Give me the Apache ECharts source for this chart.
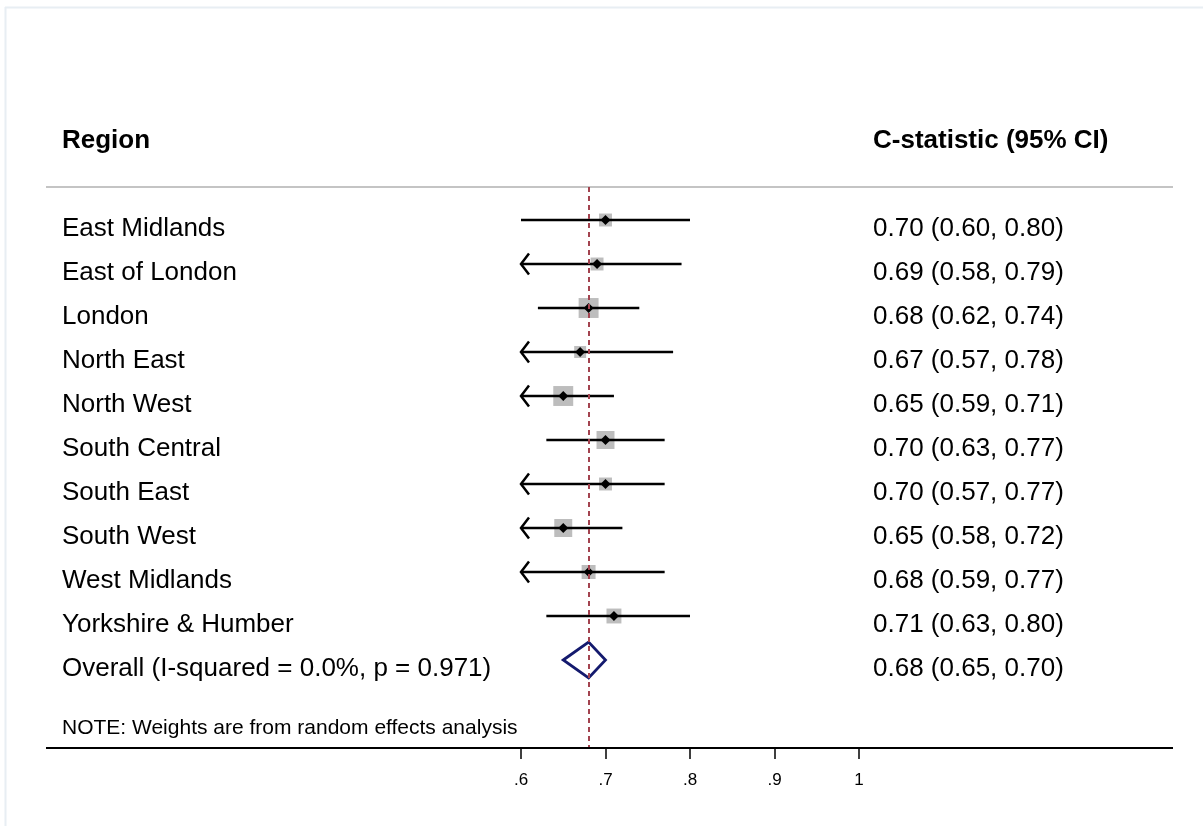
<!DOCTYPE html>
<html>
<head>
<meta charset="utf-8">
<title>C-statistic by region</title>
<script src="https://cdn.jsdelivr.net/npm/echarts@6/dist/echarts.min.js"></script>
<style>
  html, body { margin: 0; padding: 0; background: #ffffff; }
  #chart { width: 1203px; height: 826px; }
</style>
</head>
<body>
<div id="chart"></div>
<script>
// Study rows: region, C-statistic point estimate and 95% CI, random-effects weight (%)
const regions = ['East Midlands', 'East of London', 'London', 'North East', 'North West',
                 'South Central', 'South East', 'South West', 'West Midlands', 'Yorkshire & Humber'];
const estimate = [0.70, 0.69, 0.68, 0.67, 0.65, 0.70, 0.70, 0.65, 0.68, 0.71];
const lowerCI  = [0.60, 0.58, 0.62, 0.57, 0.59, 0.63, 0.57, 0.58, 0.59, 0.63];
const upperCI  = [0.80, 0.79, 0.74, 0.78, 0.71, 0.77, 0.77, 0.72, 0.77, 0.80];
const weights  = [6.7, 6.7, 15.9, 5.7, 15.9, 12.9, 6.7, 12.9, 7.8, 8.9];

// Pooled estimate
const overallLabel = 'Overall (I-squared = 0.0%, p = 0.971)';
const overallEstimate = 0.68;
const overallLower = 0.65;
const overallUpper = 0.70;

// Axis and captions
const xTicks = ['.6', '.7', '.8', '.9', '1'];
const xMin = 0.6, xMax = 1.0, xStep = 0.1;
const headerLeft = 'Region';
const headerRight = 'C-statistic (95% CI)';
const noteText = 'NOTE: Weights are from random effects analysis';

// Layout
const W = 1203, H = 826;
const FONT = '"Liberation Sans", Arial, Helvetica, sans-serif';
const GRID = { left: 521, right: 344, top: 187, bottom: 78 };
const axisY = H - GRID.bottom;
const LABEL_X = 62, CI_X = 873, RULE_L = 46, RULE_R = 1173;
const TEXT_DROP = 9;
const ROW_FONT = '26px ' + FONT;

const fmt = v => v.toFixed(2);
const ciText = (e, l, u) => fmt(e) + ' (' + fmt(l) + ', ' + fmt(u) + ')';

function renderStudy(params, api) {
  const idx = params.dataIndex;
  const row = api.value(0), est = api.value(1), lo = api.value(2), hi = api.value(3), w = api.value(4);
  const p = api.coord([est, row]);
  const xe = p[0], y = p[1];
  const xl = api.coord([Math.max(lo, xMin), row])[0];
  const xh = api.coord([Math.min(hi, xMax), row])[0];
  const side = Math.sqrt(w) * 5.0;
  const children = [
    { type: 'rect', shape: { x: xe - side / 2, y: y - side / 2, width: side, height: side },
      style: { fill: '#bdbdbd' } },
    { type: 'line', shape: { x1: xl, y1: y, x2: xh, y2: y },
      style: { stroke: '#000', lineWidth: 2.5 } }
  ];
  if (lo < xMin - 1e-9) {
    children.push({ type: 'polyline',
      shape: { points: [[xl + 8, y - 10.5], [xl, y], [xl + 8, y + 10.5]] },
      style: { stroke: '#000', lineWidth: 2.5, fill: null } });
  }
  children.push({ type: 'polygon',
    shape: { points: [[xe - 5, y], [xe, y - 5], [xe + 5, y], [xe, y + 5]] },
    style: { fill: '#000' } });
  children.push({ type: 'text',
    style: { text: regions[idx], x: LABEL_X, y: y + TEXT_DROP, font: ROW_FONT, fill: '#000',
             align: 'left', verticalAlign: 'middle' } });
  children.push({ type: 'text',
    style: { text: ciText(est, lo, hi), x: CI_X, y: y + TEXT_DROP, font: ROW_FONT, fill: '#000',
             align: 'left', verticalAlign: 'middle' } });
  return { type: 'group', children: children };
}

function renderOverall(params, api) {
  const row = api.value(0), est = api.value(1), lo = api.value(2), hi = api.value(3);
  const c = api.coord([est, row]);
  const xl = api.coord([lo, row])[0], xh = api.coord([hi, row])[0];
  const y = c[1], half = 18;
  return { type: 'group', children: [
    { type: 'polygon',
      shape: { points: [[xl, y], [c[0], y - half], [xh, y], [c[0], y + half]] },
      style: { stroke: '#141a6e', lineWidth: 2.8, fill: null } },
    { type: 'text',
      style: { text: overallLabel, x: LABEL_X, y: y + TEXT_DROP, font: ROW_FONT, fill: '#000',
               align: 'left', verticalAlign: 'middle' } },
    { type: 'text',
      style: { text: ciText(est, lo, hi), x: CI_X, y: y + TEXT_DROP, font: ROW_FONT, fill: '#000',
               align: 'left', verticalAlign: 'middle' } }
  ] };
}

const studyData = regions.map((r, i) => [i, estimate[i], lowerCI[i], upperCI[i], weights[i]]);
const overallData = [[regions.length, overallEstimate, overallLower, overallUpper]];

const chart = echarts.init(document.getElementById('chart'), null, { renderer: 'canvas' });
chart.setOption({
  backgroundColor: '#ffffff',
  animation: false,
  grid: GRID,
  xAxis: {
    type: 'value', min: xMin, max: xMax, interval: xStep, position: 'bottom',
    axisLine: { show: false, onZero: false },
    axisTick: { show: true, length: 11, lineStyle: { color: '#000', width: 1.5 } },
    axisLabel: {
      color: '#000', fontSize: 17, fontFamily: FONT, margin: 24,
      formatter: v => xTicks[Math.round((v - xMin) / xStep)]
    },
    splitLine: { show: false }
  },
  yAxis: { type: 'value', inverse: true, min: -0.75, max: 12, show: false },
  series: [
    {
      type: 'custom', name: 'studies', renderItem: renderStudy, data: studyData,
      encode: { x: [1, 2, 3], y: 0 }, clip: false, z: 3,
      markLine: {
        silent: true, symbol: 'none', label: { show: false },
        lineStyle: { color: '#a3434f', type: [5, 4], width: 2 },
        data: [{ xAxis: overallEstimate }]
      }
    },
    {
      type: 'custom', name: 'overall', renderItem: renderOverall, data: overallData,
      encode: { x: [1, 2, 3], y: 0 }, clip: false, z: 4
    }
  ],
  graphic: [
    // outer frame
    { type: 'line', shape: { x1: 5.5, y1: 7, x2: 5.5, y2: H }, style: { stroke: '#e8eef3', lineWidth: 2 } },
    { type: 'line', shape: { x1: 5, y1: 7.5, x2: W, y2: 7.5 }, style: { stroke: '#e8eef3', lineWidth: 2 } },
    // column headers
    { type: 'text', style: { text: headerLeft, x: LABEL_X, y: 141, font: 'bold 26px ' + FONT,
      fill: '#000', align: 'left', verticalAlign: 'middle' } },
    { type: 'text', style: { text: headerRight, x: CI_X, y: 141, font: 'bold 26px ' + FONT,
      fill: '#000', align: 'left', verticalAlign: 'middle' } },
    { type: 'line', shape: { x1: RULE_L, y1: GRID.top, x2: RULE_R, y2: GRID.top },
      style: { stroke: '#c4c4c4', lineWidth: 2 } },
    // footnote and x-axis baseline
    { type: 'text', style: { text: noteText, x: LABEL_X, y: 728, font: '21px ' + FONT,
      fill: '#000', align: 'left', verticalAlign: 'middle' } },
    { type: 'line', z: 10, shape: { x1: RULE_L, y1: axisY, x2: RULE_R, y2: axisY },
      style: { stroke: '#000', lineWidth: 2 } }
  ]
});
</script>
</body>
</html>
